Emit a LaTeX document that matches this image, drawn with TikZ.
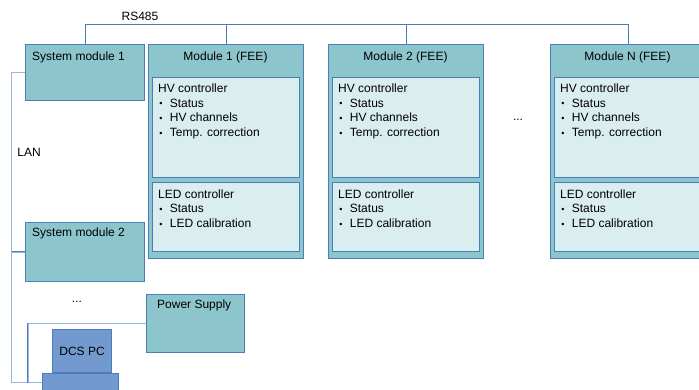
\documentclass[tikz,border=0pt]{standalone}
\usepackage{fontspec}
\setmainfont{Liberation Sans}
\usepackage{graphicx}
\definecolor{tealf}{HTML}{8CC5CC}
\definecolor{bord}{HTML}{4A7DBA}
\definecolor{innerf}{HTML}{DAEDEF}
\definecolor{pcf}{HTML}{729ACE}
\definecolor{lanlight}{HTML}{9CB6DC}
\newcommand\bl{\hspace{1.2pt}\makebox[10.5pt][l]{\raisebox{0.3pt}{\scalebox{0.75}{\textbullet}}}}
\tikzset{
  outer/.style={draw=bord, fill=tealf, line width=1.1pt, inner sep=0pt, anchor=north west},
  innerbox/.style={draw=bord, fill=innerf, line width=1.1pt, inner sep=0pt, anchor=north west},
  pcbox/.style={draw=bord, fill=pcf, line width=1.1pt, inner sep=0pt, anchor=north west},
  txt/.style={font=\fontsize{12}{14.7}\selectfont, inner sep=0pt, anchor=north west, align=left},
  ctxt/.style={font=\fontsize{12}{14.7}\selectfont, inner sep=0pt},
  conn/.style={draw=bord, line width=1pt},
  lanline/.style={draw=bord, line width=0.5pt, double=lanlight, double distance=0.8pt}
}
\newcommand\febox[3]{%
  \node[outer, minimum width=155pt, minimum height=214pt] (#1) at (#2,44) {};
  \node[innerbox, minimum width=147.5pt, minimum height=100pt] (#1hv) at (#2+3.6,77) {};
  \node[innerbox, minimum width=147.5pt, minimum height=69pt] (#1led) at (#2+3.6,182) {};
  \node[txt, anchor=north] (#1t) at (#2+77.5,51.5) {#3};
  \node[txt] (#1hvt) at (#2+10,83.6) {HV controller\\\bl Status\\\bl HV channels\\\bl Temp. correction};
  \node[txt] (#1ledt) at (#2+10,189.3) {LED controller\\\bl Status\\\bl LED calibration};
}
\begin{document}
\begin{tikzpicture}[x=1pt,y=-1pt]
\useasboundingbox (0,0) rectangle (699,390);
\clip (0,0) rectangle (699,390);
\fill[white] (0,0) rectangle (699,390);

% system modules
\node[outer, minimum width=119pt, minimum height=56pt] (sm1) at (25,44) {};
\node[txt] (sm1t) at (32,51.7) {System module 1};
\node[outer, minimum width=119pt, minimum height=59pt] (sm2) at (25,222) {};
\node[txt] (sm2t) at (32,227.7) {System module 2};
\node[outer, minimum width=98pt, minimum height=58pt] (ps) at (146,294) {};
\node[txt] (pst) at (157,300) {Power Supply};

% FEE modules
\febox{ma}{148}{Module 1 (FEE)}
\febox{mb}{328}{Module 2 (FEE)}
\febox{mn}{550}{Module N (FEE)}

% DCS PC
\node[pcbox, minimum width=59pt, minimum height=43pt] (pc) at (52,329) {};
\node[ctxt] (pct) at (pc.center) {DCS PC};
\node[pcbox, minimum width=76pt, minimum height=18pt] (base) at (42,373) {};

% labels
\node[ctxt] (rs) at (140,16.5) {RS485};
\node[ctxt] (lan) at (29,152) {LAN};
\node[ctxt] (dots1) at (77,302) {...};
\node[ctxt] (dots2) at (518,120) {...};

% RS485 bus
\coordinate (busy) at (0,25);
\draw[conn] (sm1.north) -- (sm1.north |- busy) -| (mn.north);
\draw[conn] (ma.north) -- (ma.north |- busy);
\draw[conn] (mb.north) -- (mb.north |- busy);

% LAN
\coordinate (lanx) at (11.5,0);
\coordinate (psx) at (28,0);
\draw[lanline] (sm1.west) -- (sm1.west -| lanx) |- (base.west);
\draw[lanline] (sm2.west) -- (sm2.west -| lanx);
\draw[lanline] (ps.west) -| (psx |- base.west);
\end{tikzpicture}
\end{document}
